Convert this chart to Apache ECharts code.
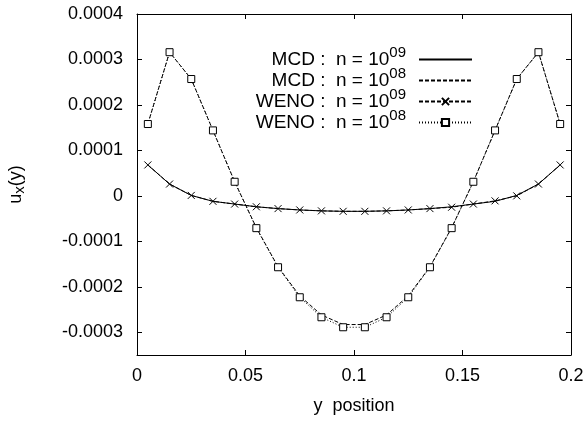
<!DOCTYPE html>
<html>
<head>
<meta charset="utf-8">
<script src="https://cdn.jsdelivr.net/npm/echarts@6/dist/echarts.min.js"></script>
<style>
html,body{margin:0;padding:0;background:#fff;}
#chart{width:587px;height:424px;}
</style>
</head>
<body>
<div id="chart"></div>
<script>
// ---- data ----
const yPositions = [0.005, 0.015, 0.025, 0.035, 0.045, 0.055, 0.065, 0.075, 0.085, 0.095,
                    0.105, 0.115, 0.125, 0.135, 0.145, 0.155, 0.165, 0.175, 0.185, 0.195];
const mcd09 = [0.000068, 0.000026, 0.000001, -0.000012, -0.000018, -0.000024, -0.000028, -0.000031, -0.000033, -0.000034,
               -0.000034, -0.000033, -0.000031, -0.000028, -0.000024, -0.000018, -0.000012, 0.000001, 0.000026, 0.000068];
const mcd08 = [0.000158, 0.000316, 0.000257, 0.000144, 0.000031, -0.000070, -0.000156, -0.000220, -0.000262, -0.000283,
               -0.000283, -0.000262, -0.000220, -0.000156, -0.000070, 0.000031, 0.000144, 0.000257, 0.000316, 0.000158];
const weno09 = [0.000068, 0.000026, 0.000001, -0.000012, -0.000018, -0.000024, -0.000028, -0.000031, -0.000033, -0.000034,
                -0.000034, -0.000033, -0.000031, -0.000028, -0.000025, -0.000018, -0.000011, 0.000000, 0.000026, 0.000068];
const weno08 = [0.000158, 0.000316, 0.000257, 0.000144, 0.000031, -0.000071, -0.000157, -0.000223, -0.000267, -0.000289,
                -0.000289, -0.000267, -0.000223, -0.000157, -0.000071, 0.000031, 0.000144, 0.000257, 0.000316, 0.000158];
const seriesNames = ['MCD09', 'MCD08', 'WENO09', 'WENO08'];
const legendLabels = ['MCD :  n = 10', 'MCD :  n = 10', 'WENO :  n = 10', 'WENO :  n = 10'];
const legendExponents = ['09', '08', '09', '08'];
const xTickLabels = ['0', '0.05', '0.1', '0.15', '0.2'];
const yTickLabels = ['-0.0003', '-0.0002', '-0.0001', '0', '0.0001', '0.0002', '0.0003', '0.0004'];
const xTitle = 'y  position';

// ---- chart ----
const yTickValues = yTickLabels.map(Number);
const zip = (ys) => yPositions.map((x, i) => [x, ys[i]]);
const FONT = 'Liberation Sans, Arial, Helvetica, sans-serif';
const black = '#000';

const chart = echarts.init(document.getElementById('chart'), null, {renderer: 'canvas'});

const baseAxisLine = {show: true, onZero: false, lineStyle: {color: black, width: 1}};
const tick = {show: true, inside: true, length: 5, lineStyle: {color: black, width: 1}};
const hiddenSymbol = {color: 'rgba(0,0,0,0)', borderWidth: 0, opacity: 0};

const option = {
  backgroundColor: '#fff',
  animation: false,
  textStyle: {fontFamily: FONT, color: black},
  grid: {left: 137, right: 16, top: 14, bottom: 69, containLabel: false, outerBoundsMode: 'none'},
  legend: {
    orient: 'vertical',
    right: 114,
    top: 45,
    padding: 0,
    align: 'right',
    itemWidth: 53,
    itemHeight: 9,
    itemGap: -8,
    selectedMode: false,
    data: [
      {name: seriesNames[0], itemStyle: hiddenSymbol},
      {name: seriesNames[1], itemStyle: hiddenSymbol},
      {name: seriesNames[2]},
      {name: seriesNames[3]}
    ],
    formatter: function (name) {
      const i = seriesNames.indexOf(name);
      return '{m|' + legendLabels[i] + '}{s|' + legendExponents[i] + '}';
    },
    textStyle: {
      fontFamily: FONT,
      color: black,
      rich: {
        m: {fontSize: 19, fontFamily: FONT, color: black, lineHeight: 20},
        s: {fontSize: 15, fontFamily: FONT, color: black, lineHeight: 6, padding: [0, 8, 14, 0]}
      }
    }
  },
  xAxis: [{
    type: 'value', min: 0, max: 0.2, interval: 0.05, position: 'bottom',
    axisLine: baseAxisLine, axisTick: tick, splitLine: {show: false},
    axisLabel: {
      color: black, fontSize: 18, fontFamily: FONT, margin: 12,
      formatter: function (v) { const i = Math.round(v / 0.05); return xTickLabels[i] !== undefined ? xTickLabels[i] : ''; }
    },
    name: xTitle, nameLocation: 'middle', nameGap: 42,
    nameTextStyle: {fontSize: 18, fontFamily: FONT, color: black}
  }, {
    type: 'value', min: 0, max: 0.2, interval: 0.05, position: 'top',
    axisLine: baseAxisLine, axisTick: tick, splitLine: {show: false},
    axisLabel: {show: false}
  }],
  yAxis: [{
    type: 'value', min: -0.00035, max: 0.0004, position: 'left',
    axisLine: baseAxisLine,
    axisTick: Object.assign({}, tick, {customValues: yTickValues}),
    splitLine: {show: false},
    axisLabel: {
      color: black, fontSize: 18, fontFamily: FONT, margin: 14,
      customValues: yTickValues,
      formatter: function (v) {
        let best = 0, bd = Infinity;
        yTickValues.forEach((t, i) => { const d = Math.abs(t - v); if (d < bd) { bd = d; best = i; } });
        return yTickLabels[best];
      }
    },
    name: '{u|u}{x|x}{u|(y)}', nameLocation: 'middle', nameGap: 111, nameRotate: 90,
    nameTextStyle: {
      fontFamily: FONT, color: black, fontSize: 18,
      rich: {
        u: {fontSize: 18, fontFamily: FONT, color: black, lineHeight: 20},
        x: {fontSize: 15, fontFamily: FONT, color: black, lineHeight: 6, padding: [8, 0, 0, 0]}
      }
    }
  }, {
    type: 'value', min: -0.00035, max: 0.0004, position: 'right',
    axisLine: baseAxisLine,
    axisTick: Object.assign({}, tick, {customValues: yTickValues}),
    splitLine: {show: false},
    axisLabel: {show: false, customValues: yTickValues}
  }],
  series: [
    {
      name: seriesNames[0], type: 'line', data: zip(mcd09), symbol: 'none',
      lineStyle: {color: black, width: 1, type: 'solid'},
      itemStyle: {color: black}, z: 2
    },
    {
      name: seriesNames[1], type: 'line', data: zip(mcd08), symbol: 'none',
      lineStyle: {color: black, width: 1, type: [4, 2]},
      itemStyle: {color: black}, z: 2
    },
    {
      name: seriesNames[2], type: 'line', data: zip(weno09),
      symbol: 'path://M0,0L10,10M0,10L10,0', symbolSize: 7,
      lineStyle: {color: black, width: 1, type: [4, 2]},
      itemStyle: {color: black, borderColor: black, borderWidth: 1}, z: 3
    },
    {
      name: seriesNames[3], type: 'line', data: zip(weno08),
      symbol: 'rect', symbolSize: 7,
      lineStyle: {color: black, width: 1, type: [1, 2]},
      itemStyle: {color: '#fff', borderColor: black, borderWidth: 1}, z: 3
    }
  ]
};
chart.setOption(option);
</script>
</body>
</html>
